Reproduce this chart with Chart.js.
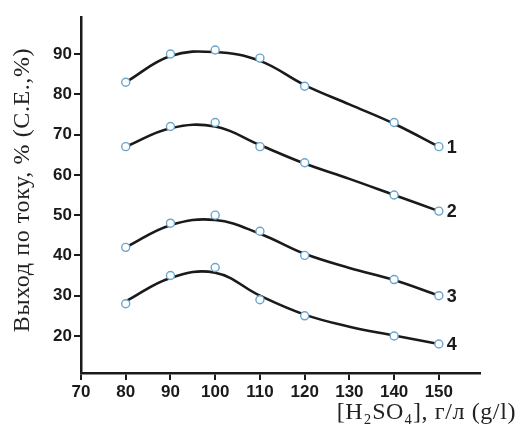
<!DOCTYPE html>
<html>
<head>
<meta charset="utf-8">
<script src="https://cdn.jsdelivr.net/npm/chart.js@4/dist/chart.umd.min.js"></script>
<style>
html,body{margin:0;padding:0;background:#fff;}
#wrap{width:523px;height:429px;position:relative;}
</style>
</head>
<body>
<div id="wrap"><canvas id="c" width="523" height="429"></canvas></div>
<script>
// Measured points
const xPoints = [80, 90, 100, 110, 120, 140, 150];
const curve1Points = [83, 90, 91, 89, 82, 73, 67];
const curve2Points = [67, 72, 73, 67, 63, 55, 51];
const curve3Points = [42, 48, 50, 46, 40, 34, 30];
const curve4Points = [28, 35, 37, 29, 25, 20, 18];

// Smooth fitted curves
const xFit = [80, 90, 100, 110, 120, 130, 140, 150];
const curve1Fit = [83, 89.5, 90.5, 88.3, 82.3, 77.5, 72.7, 67];
const curve2Fit = [67, 71.6, 72, 67.4, 62.8, 59, 55, 51];
const curve3Fit = [42, 47.5, 48.8, 45.4, 40.4, 36.9, 33.9, 30];
const curve4Fit = [28.6, 34.4, 35.7, 30, 25.3, 22.3, 20.1, 18];

const curveLabels = ['1', '2', '3', '4'];
const xTickValues = [70, 80, 90, 100, 110, 120, 130, 140, 150];
const yTickValues = [20, 30, 40, 50, 60, 70, 80, 90];
const yTitle = 'Выход по току, % (C.E.,%)';
const xTitle = '[H₂SO₄], г/л (g/l)';

const pts = (xs, ys) => xs.map((x, i) => ({x: x, y: ys[i]}));
const pointSets = [curve1Points, curve2Points, curve3Points, curve4Points];
const fitSets = [curve1Fit, curve2Fit, curve3Fit, curve4Fit];

const datasets = [];
pointSets.forEach((ys, i) => {
  datasets.push({
    type: 'scatter', label: 'pts' + (i + 1), data: pts(xPoints, ys), order: 0,
    pointRadius: 4, pointBackgroundColor: '#ffffff', pointBorderColor: '#6aa6cc',
    pointBorderWidth: 1.4, showLine: false
  });
});
fitSets.forEach((ys, i) => {
  datasets.push({
    type: 'line', label: 'fit' + (i + 1), data: pts(xFit, ys), order: 1,
    borderColor: '#1a1a1a', borderWidth: 2.6, pointRadius: 0, fill: false,
    tension: 0.4, curveLabel: curveLabels[i]
  });
});

const textPlugin = {
  id: 'texts',
  afterDraw(chart) {
    const ctx = chart.ctx;
    const xs = chart.scales.x, ys = chart.scales.y;
    ctx.save();
    ctx.fillStyle = '#1a1a1a';
    ctx.font = 'bold 18px "Liberation Sans", Arial, sans-serif';
    ctx.textAlign = 'left';
    ctx.textBaseline = 'middle';
    chart.data.datasets.forEach(ds => {
      if (!ds.curveLabel) return;
      const last = ds.data[ds.data.length - 1];
      ctx.fillText(ds.curveLabel, xs.getPixelForValue(last.x) + 8, ys.getPixelForValue(last.y) + 1);
    });
    ctx.fillStyle = '#222';
    ctx.font = '24px "Liberation Serif", "Times New Roman", serif';
    ctx.letterSpacing = '0.6px';
    ctx.textAlign = 'right';
    ctx.textBaseline = 'alphabetic';
    ctx.fillText(xTitle, 516, 419);
    ctx.translate(29, (chart.chartArea.top + chart.chartArea.bottom) / 2 - 5);
    ctx.rotate(-Math.PI / 2);
    ctx.textAlign = 'center';
    ctx.fillText(yTitle, 0, 0);
    ctx.restore();
  }
};

new Chart(document.getElementById('c'), {
  data: {datasets: datasets},
  plugins: [textPlugin],
  options: {
    responsive: false, animation: false,
    layout: {padding: {top: 17, right: 43, left: 0, bottom: 0}},
    plugins: {legend: {display: false}, tooltip: {enabled: false}},
    scales: {
      x: {
        type: 'linear', min: 70, max: 159.2,
        afterBuildTicks: s => { s.ticks = xTickValues.map(v => ({value: v})); },
        afterFit: s => { s.height = 56; },
        border: {color: '#1a1a1a', width: 2.5},
        grid: {drawOnChartArea: false, drawTicks: true, tickLength: 7, color: '#1a1a1a', lineWidth: 2},
        ticks: {color: '#1a1a1a', padding: 2, maxRotation: 0,
                font: {family: '"Liberation Sans", Arial, sans-serif', weight: 'bold', size: 17}}
      },
      y: {
        type: 'linear', min: 10.8, max: 99.2,
        afterBuildTicks: s => { s.ticks = yTickValues.map(v => ({value: v})); },
        afterFit: s => { s.width = 81; },
        border: {color: '#1a1a1a', width: 2.5},
        grid: {drawOnChartArea: false, drawTicks: true, tickLength: 7, color: '#1a1a1a', lineWidth: 2},
        ticks: {color: '#1a1a1a', padding: 2,
                font: {family: '"Liberation Sans", Arial, sans-serif', weight: 'bold', size: 17}}
      }
    }
  }
});
</script>
</body>
</html>
